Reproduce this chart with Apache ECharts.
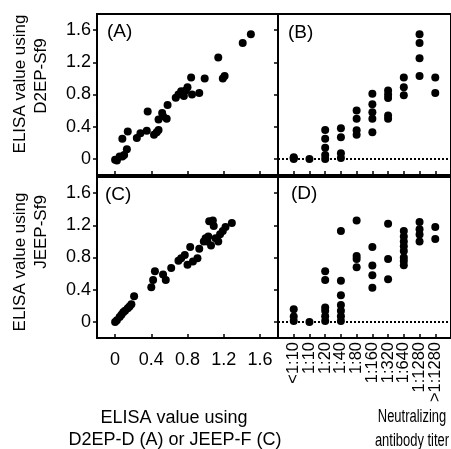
<!DOCTYPE html>
<html><head><meta charset="utf-8">
<script src="https://cdn.jsdelivr.net/npm/echarts@6/dist/echarts.min.js"></script>
<style>html,body{margin:0;padding:0;background:#fff}#c{width:451px;height:449px}</style>
</head><body><div id="c"></div>
<script>
// Panel A: ELISA D2EP-D (x) vs D2EP-Sf9 (y)
const panelA = [[0.0,-0.01],[0.02,-0.02],[0.05,0.03],[0.08,0.03],[0.10,0.05],[0.13,0.12],[0.08,0.25],[0.14,0.34],
 [0.24,0.26],[0.28,0.32],[0.35,0.35],[0.36,0.59],[0.43,0.30],[0.46,0.33],[0.48,0.36],[0.48,0.49],[0.52,0.57],
 [0.53,0.53],[0.57,0.50],[0.58,0.67],[0.67,0.76],[0.70,0.80],[0.73,0.84],[0.76,0.78],[0.78,0.85],[0.80,0.89],
 [0.84,1.01],[0.85,0.80],[0.93,0.82],[0.99,1.00],[1.14,1.26],[1.19,1.00],[1.21,1.03],[1.41,1.44],[1.50,1.55]];
// Panel C: ELISA JEEP-F (x) vs JEEP-Sf9 (y)
const panelC = [[0.0,0.0],[0.02,0.02],[0.05,0.06],[0.07,0.09],[0.09,0.12],[0.11,0.14],[0.14,0.17],[0.16,0.19],
 [0.18,0.22],[0.21,0.32],[0.40,0.43],[0.42,0.52],[0.44,0.63],[0.53,0.59],[0.56,0.52],[0.62,0.67],[0.70,0.76],
 [0.73,0.79],[0.77,0.83],[0.80,0.71],[0.83,0.93],[0.86,0.75],[0.91,0.79],[0.93,0.91],[0.98,1.00],[1.00,1.04],
 [1.02,1.00],[1.03,1.06],[1.06,0.95],[1.04,1.25],[1.08,1.26],[1.09,1.19],[1.11,1.04],[1.14,1.00],[1.16,1.09],
 [1.19,1.13],[1.22,1.18],[1.29,1.23]];
// Titer categories and panel B / D values (index into titers, ELISA value)
const titers = ['<1:10','1:10','1:20','1:40','1:80','1:160','1:320','1:640','1:1280','>1:1280'];
const panelB = [[0,0.0],[0,0.02],[0,0.01],[1,0.0],
 [2,0.36],[2,0.25],[2,0.14],[2,0.05],[2,0.0],
 [3,0.38],[3,0.27],[3,0.07],[3,0.01],
 [4,0.60],[4,0.50],[4,0.355],[4,0.30],
 [5,0.81],[5,0.68],[5,0.58],[5,0.50],[5,0.33],
 [6,0.85],[6,0.80],[6,0.755],[6,0.54],[6,0.50],
 [7,1.01],[7,0.89],[7,0.79],
 [8,1.55],[8,1.44],[8,1.25],[8,1.03],
 [9,1.01],[9,0.82]];
const panelD = [[0,0.157],[0,0.066],[0,0.01],[1,0.0],
 [2,0.63],[2,0.52],[2,0.18],[2,0.14],[2,0.07],[2,0.01],
 [3,1.13],[3,0.51],[3,0.33],[3,0.21],[3,0.14],[3,0.07],[3,0.01],
 [4,1.26],[4,0.82],[4,0.78],[4,0.68],
 [5,0.93],[5,0.70],[5,0.58],[5,0.425],
 [6,1.22],[6,0.78],[6,0.53],
 [7,1.13],[7,1.06],[7,1.00],[7,0.94],[7,0.88],[7,0.80],[7,0.755],[7,0.705],
 [8,1.24],[8,1.15],[8,1.085],[8,1.00],
 [9,1.18],[9,1.03]];
const elisaTicks = [0,0.4,0.8,1.2,1.6];
const cutoff = 0;

const FONT = 'Liberation Sans, Arial, Helvetica, sans-serif';
const chart = echarts.init(document.getElementById('c'), null, {renderer:'canvas'});
const gridStyle = {show:true, borderColor:'#000', borderWidth:2, backgroundColor:'transparent'};
const grids = [
  Object.assign({left:97, top:14, right:173, bottom:274}, gridStyle),
  Object.assign({left:278, top:14, right:-10, bottom:274}, gridStyle),
  Object.assign({left:97, top:177, right:173, bottom:111}, gridStyle),
  Object.assign({left:278, top:177, right:-10, bottom:111}, gridStyle)
];
const fmt = v => v === 0 ? '0' : v.toFixed(1);
function yAxis(i, labels){
  return {type:'value', gridIndex:i, min:-0.2, max:1.8, splitLine:{show:false},
    axisLine:{show:true, onZero:false, lineStyle:{color:'#000', width:2}},
    axisTick:{show:true, inside:false, length:4, lineStyle:{color:'#000', width:1.5}, customValues:elisaTicks},
    axisLabel:{show:labels, customValues:elisaTicks, formatter:fmt, margin:6, color:'#000', fontSize:18, fontFamily:FONT}};
}
function xElisa(i, labels){
  return {type:'value', gridIndex:i, min:-0.2, max:1.8, splitLine:{show:false},
    axisLine:{show:true, onZero:false, lineStyle:{color:'#000', width:2}},
    axisTick:{show:true, inside:true, length:4, lineStyle:{color:'#000', width:1.5}, customValues:elisaTicks},
    axisLabel:{show:labels, customValues:elisaTicks, formatter:fmt, margin:13, color:'#000', fontSize:18, fontFamily:FONT}};
}
function xTiter(i, labels){
  return {type:'value', gridIndex:i, min:-1, max:10, interval:1, splitLine:{show:false},
    axisLine:{show:true, onZero:false, lineStyle:{color:'#000', width:2}},
    axisTick:{show:true, inside:true, length:4, lineStyle:{color:'#000', width:1.5}},
    axisLabel:{show:labels, rotate:90, margin:4, color:'#000', fontSize:16.5, fontFamily:FONT,
      showMinLabel:false, showMaxLabel:false,
      formatter: v => (v>=0 && v<titers.length) ? titers[v] : ''}};
}
const sym = {type:'scatter', symbol:'circle', symbolSize:8, itemStyle:{color:'#000', opacity:1}, silent:true};
const cutLine = {silent:true, symbol:['none','none'], label:{show:false},
  lineStyle:{color:'#000', type:[2,2], width:2, opacity:1}, data:[{yAxis:cutoff}]};
const txt = (x,y,text,size,rot,align,sx) => ({type:'text', x:x, y:y, rotation:rot||0, scaleX:sx||1,
  style:{text:text, font:size+'px '+FONT, fill:'#000', align:align||'center', verticalAlign:'middle'}});

chart.setOption({
  animation:false,
  grid: grids,
  xAxis:[xElisa(0,false), xTiter(1,false), xElisa(2,true), xTiter(3,true)],
  yAxis:[yAxis(0,true), yAxis(1,false), yAxis(2,true), yAxis(3,false)],
  series:[
    Object.assign({xAxisIndex:0, yAxisIndex:0, data:panelA}, sym),
    Object.assign({xAxisIndex:1, yAxisIndex:1, data:panelB, markLine:cutLine}, sym),
    Object.assign({xAxisIndex:2, yAxisIndex:2, data:panelC}, sym),
    Object.assign({xAxisIndex:3, yAxisIndex:3, data:panelD, markLine:cutLine}, sym)
  ],
  graphic:[
    txt(107,32,'(A)',19,0,'left'),
    txt(288,33,'(B)',19,0,'left'),
    txt(105,195,'(C)',19,0,'left'),
    txt(291,194,'(D)',19,0,'left'),
    txt(20,84,'ELISA value using',17,Math.PI/2),
    txt(41,76,'D2EP-Sf9',17,Math.PI/2),
    txt(20,262,'ELISA value using',17,Math.PI/2),
    txt(41,232,'JEEP-Sf9',17,Math.PI/2),
    txt(174,418,'ELISA value using',18),
    txt(175,440,'D2EP-D (A) or JEEP-F (C)',18),
    txt(412,417,'Neutralizing',18,0,'center',0.72),
    txt(412,441,'antibody titer',18,0,'center',0.72)
  ]
});
</script></body></html>
